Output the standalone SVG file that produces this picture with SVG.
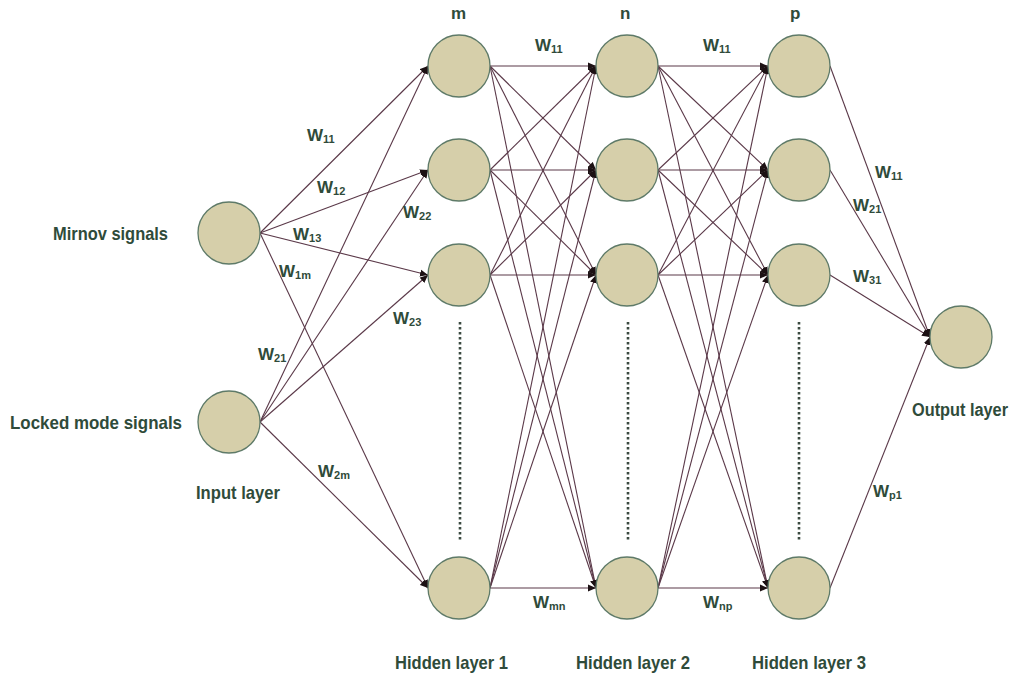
<svg xmlns="http://www.w3.org/2000/svg" width="1016" height="675" viewBox="0 0 1016 675">
  <style>
    .node { fill: #d6cfaa; stroke: #5e7a68; stroke-width: 1.3; }
    .edge { stroke: #5a3848; stroke-width: 1.1; fill: none; marker-end: url(#arrow); }
    .lbl { font-family: "Liberation Sans", Arial, sans-serif; font-weight: bold; font-size: 17px; fill: #2f4b3a; }
    .big { font-size: 18.5px; }
    .sub { font-size: 11px; }
    .dots { stroke: #3b4a40; stroke-width: 2.6; stroke-dasharray: 2.4 2.6; fill: none; }
  </style>
  <defs>
    <marker id="arrow" markerUnits="userSpaceOnUse" markerWidth="9" markerHeight="8" refX="8" refY="4" orient="auto">
      <path d="M0,0.5 L8,4 L0,7.5 z" fill="#1c1114"/>
    </marker>
  </defs>
  <rect width="1016" height="675" fill="#ffffff"/>

  <!-- connectors -->
  <g id="connectors">
    <!-- input layer to hidden layer 1 -->
    <line class="edge" x1="260" y1="233" x2="428" y2="66"/>
    <line class="edge" x1="260" y1="233" x2="428" y2="170"/>
    <line class="edge" x1="260" y1="233" x2="428" y2="275"/>
    <line class="edge" x1="260" y1="233" x2="428" y2="588"/>
    <line class="edge" x1="260" y1="422" x2="428" y2="66"/>
    <line class="edge" x1="260" y1="422" x2="428" y2="170"/>
    <line class="edge" x1="260" y1="422" x2="428" y2="275"/>
    <line class="edge" x1="260" y1="422" x2="428" y2="588"/>
    <!-- hidden layer 1 to hidden layer 2 -->
    <line class="edge" x1="490" y1="66" x2="596" y2="66"/>
    <line class="edge" x1="490" y1="66" x2="596" y2="170"/>
    <line class="edge" x1="490" y1="66" x2="596" y2="275"/>
    <line class="edge" x1="490" y1="66" x2="596" y2="588"/>
    <line class="edge" x1="490" y1="170" x2="596" y2="66"/>
    <line class="edge" x1="490" y1="170" x2="596" y2="170"/>
    <line class="edge" x1="490" y1="170" x2="596" y2="275"/>
    <line class="edge" x1="490" y1="170" x2="596" y2="588"/>
    <line class="edge" x1="490" y1="275" x2="596" y2="66"/>
    <line class="edge" x1="490" y1="275" x2="596" y2="170"/>
    <line class="edge" x1="490" y1="275" x2="596" y2="275"/>
    <line class="edge" x1="490" y1="275" x2="596" y2="588"/>
    <line class="edge" x1="490" y1="588" x2="596" y2="66"/>
    <line class="edge" x1="490" y1="588" x2="596" y2="170"/>
    <line class="edge" x1="490" y1="588" x2="596" y2="275"/>
    <line class="edge" x1="490" y1="588" x2="596" y2="588"/>
    <!-- hidden layer 2 to hidden layer 3 -->
    <line class="edge" x1="658" y1="66" x2="768" y2="66"/>
    <line class="edge" x1="658" y1="66" x2="768" y2="170"/>
    <line class="edge" x1="658" y1="66" x2="768" y2="275"/>
    <line class="edge" x1="658" y1="66" x2="768" y2="588"/>
    <line class="edge" x1="658" y1="170" x2="768" y2="66"/>
    <line class="edge" x1="658" y1="170" x2="768" y2="170"/>
    <line class="edge" x1="658" y1="170" x2="768" y2="275"/>
    <line class="edge" x1="658" y1="170" x2="768" y2="588"/>
    <line class="edge" x1="658" y1="275" x2="768" y2="66"/>
    <line class="edge" x1="658" y1="275" x2="768" y2="170"/>
    <line class="edge" x1="658" y1="275" x2="768" y2="275"/>
    <line class="edge" x1="658" y1="275" x2="768" y2="588"/>
    <line class="edge" x1="658" y1="588" x2="768" y2="66"/>
    <line class="edge" x1="658" y1="588" x2="768" y2="170"/>
    <line class="edge" x1="658" y1="588" x2="768" y2="275"/>
    <line class="edge" x1="658" y1="588" x2="768" y2="588"/>
    <!-- hidden layer 3 to output -->
    <line class="edge" x1="830" y1="66" x2="930" y2="337"/>
    <line class="edge" x1="830" y1="170" x2="930" y2="337"/>
    <line class="edge" x1="830" y1="275" x2="930" y2="337"/>
    <line class="edge" x1="830" y1="588" x2="930" y2="337"/>
  </g>

  <!-- vertical ellipsis dots inside each hidden layer -->
  <g id="ellipses">
    <line class="dots" x1="460" y1="322" x2="460" y2="542"/>
    <line class="dots" x1="628" y1="322" x2="628" y2="542"/>
    <line class="dots" x1="799" y1="322" x2="799" y2="542"/>
  </g>

  <!-- nodes -->
  <g id="input-1"><circle class="node" cx="229" cy="233" r="31"/></g>
  <g id="input-2"><circle class="node" cx="229" cy="422" r="31"/></g>
  <g id="h1-1"><circle class="node" cx="459" cy="66" r="31"/></g>
  <g id="h1-2"><circle class="node" cx="459" cy="170" r="31"/></g>
  <g id="h1-3"><circle class="node" cx="459" cy="275" r="31"/></g>
  <g id="h1-m"><circle class="node" cx="459" cy="588" r="31"/></g>
  <g id="h2-1"><circle class="node" cx="627" cy="66" r="31"/></g>
  <g id="h2-2"><circle class="node" cx="627" cy="170" r="31"/></g>
  <g id="h2-3"><circle class="node" cx="627" cy="275" r="31"/></g>
  <g id="h2-n"><circle class="node" cx="627" cy="588" r="31"/></g>
  <g id="h3-1"><circle class="node" cx="799" cy="66" r="31"/></g>
  <g id="h3-2"><circle class="node" cx="799" cy="170" r="31"/></g>
  <g id="h3-3"><circle class="node" cx="799" cy="275" r="31"/></g>
  <g id="h3-p"><circle class="node" cx="799" cy="588" r="31"/></g>
  <g id="output"><circle class="node" cx="961" cy="337" r="31"/></g>

  <!-- layer and signal labels -->
  <g id="labels">
    <text class="lbl big" x="53" y="240" textLength="115" lengthAdjust="spacingAndGlyphs">Mirnov signals</text>
    <text class="lbl big" x="10" y="429" textLength="172" lengthAdjust="spacingAndGlyphs">Locked mode signals</text>
    <text class="lbl big" x="196" y="499" textLength="84" lengthAdjust="spacingAndGlyphs">Input layer</text>
    <text class="lbl big" x="395" y="668.5" textLength="113" lengthAdjust="spacingAndGlyphs">Hidden layer 1</text>
    <text class="lbl big" x="576" y="668.5" textLength="114" lengthAdjust="spacingAndGlyphs">Hidden layer 2</text>
    <text class="lbl big" x="752" y="668.5" textLength="114" lengthAdjust="spacingAndGlyphs">Hidden layer 3</text>
    <text class="lbl" x="912" y="416" style="font-size:17.5px" textLength="96" lengthAdjust="spacingAndGlyphs">Output layer</text>
    <text class="lbl" x="451" y="19">m</text>
    <text class="lbl" x="620" y="19">n</text>
    <text class="lbl" x="790" y="19">p</text>

    <!-- weights -->
    <text class="lbl" x="307" y="141">W<tspan class="sub" dy="1.5">11</tspan></text>
    <text class="lbl" x="317" y="193">W<tspan class="sub" dy="1.5">12</tspan></text>
    <text class="lbl" x="403" y="218">W<tspan class="sub" dy="1.5">22</tspan></text>
    <text class="lbl" x="293" y="240">W<tspan class="sub" dy="1.5">13</tspan></text>
    <text class="lbl" x="279" y="277">W<tspan class="sub" dy="1.5">1m</tspan></text>
    <text class="lbl" x="393" y="324">W<tspan class="sub" dy="1.5">23</tspan></text>
    <text class="lbl" x="258" y="360">W<tspan class="sub" dy="1.5">21</tspan></text>
    <text class="lbl" x="318" y="477">W<tspan class="sub" dy="1.5">2m</tspan></text>
    <text class="lbl" x="535" y="51">W<tspan class="sub" dy="1.5">11</tspan></text>
    <text class="lbl" x="703" y="51">W<tspan class="sub" dy="1.5">11</tspan></text>
    <text class="lbl" x="533" y="608">W<tspan class="sub" dy="1.5">mn</tspan></text>
    <text class="lbl" x="703" y="608">W<tspan class="sub" dy="1.5">np</tspan></text>
    <text class="lbl" x="875" y="178">W<tspan class="sub" dy="1.5">11</tspan></text>
    <text class="lbl" x="853" y="211">W<tspan class="sub" dy="1.5">21</tspan></text>
    <text class="lbl" x="853" y="282">W<tspan class="sub" dy="1.5">31</tspan></text>
    <text class="lbl" x="873" y="497">W<tspan class="sub" dy="1.5">p1</tspan></text>
  </g>
</svg>
